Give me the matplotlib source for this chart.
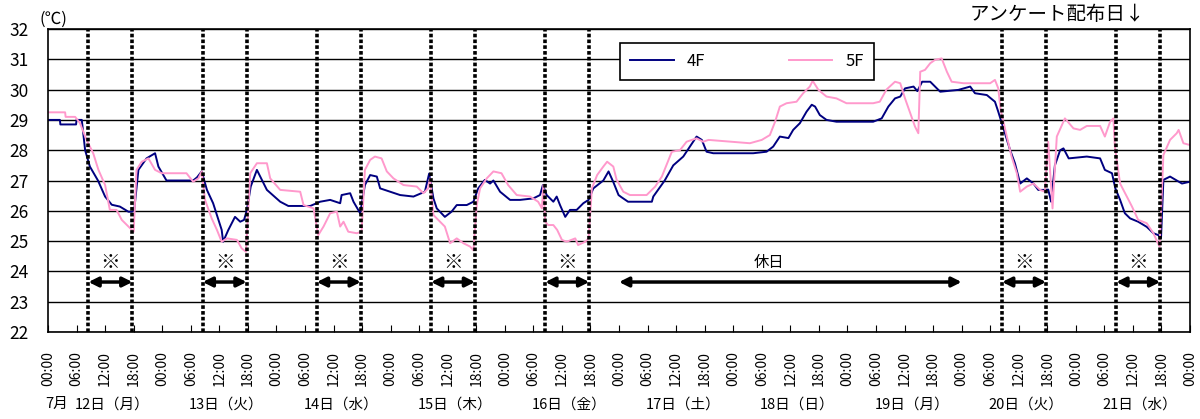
import numpy as np
import matplotlib.pyplot as plt

plt.rcParams['font.family'] = ['Noto Sans CJK JP', 'DejaVu Sans']

# hours from 7/12 00:00
t4 = [0, 2.5, 2.6, 5.9, 6.0, 7.1, 7.8, 8.8, 10.5, 12.0, 13.4, 15.1, 16.9, 17.6, 18.1, 19.0,
      20.7, 22.5, 23.2, 24.9, 30.5, 31.3, 32.3, 33.4, 34.7, 36.5, 36.8, 37.9, 39.3, 40.4,
      41.2, 41.8, 42.6, 43.9, 46.0, 48.8, 50.5, 55.1, 57.2, 59.3, 61.4, 61.7, 63.5, 64.2,
      65.6, 66.6, 67.7, 69.1, 69.8, 71.9, 74.0, 76.8, 79.2, 80.1, 81.0, 81.7, 83.4, 84.8,
      85.9, 88.0, 89.4, 90.4, 91.8, 92.9, 93.6, 95.0, 97.1, 99.2, 102.0, 103.4, 104.0,
      104.8, 106.2, 106.9, 107.6, 108.7, 109.7, 111.1, 112.5, 113.6, 114.6, 116.7, 117.8,
      118.8, 119.9, 120.5, 121.9, 126.9, 127.2, 129.6, 131.4, 133.5, 134.9, 136.3, 137.4,
      138.4, 139.8, 148.2, 151.0, 152.4, 153.8, 155.6, 156.6, 158.0, 159.4, 160.5, 161.2,
      162.2, 163.6, 165.7, 173.4, 175.2, 176.6, 178.0, 179.1, 180.1, 181.9, 182.7, 183.7,
      185.4, 187.5, 191.3, 193.8, 194.8, 197.3, 199.0, 199.7, 201.1, 202.2, 203.2, 204.3,
      205.7, 207.1, 208.1, 209.2, 210.2, 210.8, 211.6, 212.7, 213.4, 214.5, 218.3, 221.1,
      222.1, 223.6, 224.3, 225.3, 226.3, 227.4, 229.1, 230.9, 232.3, 233.3, 233.9, 234.4,
      235.8, 238.3, 240.0]
v4 = [29.0, 29.0, 28.85, 28.85, 29.0, 29.0, 28.0, 27.46, 27.0, 26.47, 26.2, 26.14, 25.97,
      25.97, 26.0, 27.35, 27.73, 27.9, 27.46, 27.0, 27.0, 27.1, 27.3, 26.69, 26.25, 25.37,
      24.98, 25.37, 25.8, 25.64, 25.7, 26.03, 26.8, 27.35, 26.69, 26.3, 26.16, 26.16, 26.3,
      26.36, 26.25, 26.52, 26.58, 26.3, 25.92, 26.85, 27.18, 27.13, 26.74, 26.63, 26.52,
      26.47, 26.63, 27.23, 26.41, 26.08, 25.8, 25.97, 26.19, 26.19, 26.3, 26.74, 27.02,
      26.9, 27.0, 26.63, 26.36, 26.36, 26.41, 26.52, 26.85, 26.52, 26.3, 26.47, 26.19,
      25.8, 26.03, 26.03, 26.25, 26.36, 26.74, 27.0, 27.3, 26.95, 26.52, 26.45, 26.3, 26.3,
      26.47, 27.0, 27.5, 27.79, 28.12, 28.45, 28.34, 27.95, 27.9, 27.9, 27.95, 28.12,
      28.45, 28.4, 28.67, 28.89, 29.27, 29.5, 29.44, 29.16, 29.0, 28.94, 28.94, 29.05,
      29.44, 29.71, 29.77, 30.04, 30.1, 29.95, 30.26, 30.26, 29.93, 29.99, 30.1, 29.88,
      29.82, 29.6, 29.27, 28.56, 28.0, 27.57, 26.9, 27.07, 26.9, 26.69, 26.69, 26.7, 26.3,
      27.5, 28.0, 28.06, 27.73, 27.79, 27.73, 27.35, 27.24, 26.74, 26.36, 25.92, 25.75,
      25.64, 25.47, 25.26, 25.2, 25.1, 27.02, 27.13, 26.9, 26.96]

t5 = [0, 3.6, 3.7, 5.7, 6.7, 8.1, 9.5, 10.6, 12.0, 13.0, 14.4, 15.5, 16.9, 18.0, 18.6, 19.7,
      21.1, 22.5, 23.9, 29.1, 30.5, 31.6, 32.3, 33.0, 34.4, 35.5, 36.5, 37.6, 39.7, 40.7,
      41.6, 42.5, 43.9, 46.0, 46.7, 48.8, 53.0, 53.7, 55.8, 56.8, 57.9, 59.3, 60.7, 61.4,
      62.1, 63.1, 64.9, 65.9, 66.6, 67.7, 68.7, 70.1, 71.2, 72.6, 74.7, 77.5, 78.9, 79.9,
      80.3, 81.0, 82.0, 83.4, 84.5, 85.9, 87.3, 88.7, 89.4, 90.1, 90.8, 92.2, 93.6, 95.3,
      96.7, 98.5, 101.3, 103.0, 103.8, 104.1, 104.5, 105.1, 106.2, 107.0, 108.0, 109.0,
      110.8, 111.4, 112.9, 113.6, 114.3, 115.4, 116.7, 117.5, 118.8, 119.5, 120.9, 122.3,
      125.8, 127.6, 129.0, 131.1, 132.8, 134.2, 135.3, 136.3, 137.7, 138.8, 147.5, 150.0,
      151.7, 152.8, 153.8, 155.2, 157.3, 158.7, 160.1, 160.7, 161.9, 163.6, 165.7, 167.8,
      173.4, 174.8, 176.2, 178.0, 179.1, 180.1, 181.2, 182.2, 182.9, 183.3, 184.3, 185.4,
      186.4, 187.8, 188.9, 189.9, 192.4, 198.0, 199.0, 199.7, 200.2, 201.5, 202.5, 203.6,
      204.3, 205.7, 207.1, 208.5, 209.5, 210.2, 211.1, 212.0, 213.7, 215.5, 216.9, 218.3,
      221.1, 222.1, 223.2, 223.9, 224.2, 225.3, 226.7, 227.8, 229.1, 230.9, 232.3, 233.1,
      233.6, 234.4, 235.8, 237.2, 237.6, 238.6, 240.0]
v5 = [29.25, 29.25, 29.1, 29.1, 28.9, 28.34, 27.9, 27.35, 26.85, 26.03, 26.03, 25.7, 25.48,
      25.31, 27.35, 27.62, 27.73, 27.35, 27.24, 27.24, 26.96, 27.07, 27.3, 26.36, 25.75,
      25.37, 24.98, 25.09, 25.04, 24.76, 24.65, 27.24, 27.57, 27.57, 27.07, 26.69, 26.63,
      26.19, 26.08, 25.2, 25.48, 25.92, 25.97, 25.48, 25.64, 25.31, 25.26, 25.31, 27.35,
      27.68, 27.79, 27.73, 27.3, 27.07, 26.85, 26.8, 26.58, 26.74, 27.07, 25.86, 25.7,
      25.48, 24.93, 25.09, 24.93, 24.82, 24.7, 26.19, 26.74, 27.07, 27.3, 27.24, 26.85,
      26.52, 26.47, 26.3, 26.08, 26.85, 25.64, 25.53, 25.53, 25.37, 25.04, 24.98, 25.09,
      24.87, 24.98, 25.09, 26.74, 27.18, 27.46, 27.62, 27.46, 27.02, 26.63, 26.52, 26.52,
      26.8, 27.13, 27.95, 28.0, 28.28, 28.34, 28.39, 28.28, 28.34, 28.23, 28.34, 28.5,
      28.94, 29.44, 29.55, 29.6, 29.88, 30.1, 30.29, 29.99, 29.77, 29.71, 29.55, 29.55,
      29.6, 30.0, 30.26, 30.21, 29.71, 29.22, 28.78, 28.56, 30.59, 30.65, 30.87, 30.98,
      31.03, 30.59, 30.26, 30.21, 30.21, 30.32, 30.04, 29.33, 28.45, 27.79, 27.24, 26.63,
      26.8, 26.9, 26.69, 26.63, 28.28, 26.08, 28.45, 29.05, 28.72, 28.67, 28.8, 28.8,
      28.45, 28.94, 29.05, 28.12, 26.9, 26.47, 26.14, 25.7, 25.59, 25.26, 24.98, 24.82,
      27.84, 28.34, 28.56, 28.67, 28.23, 28.17]

tick_names = ['00:00', '06:00', '12:00', '18:00'] * 10 + ['00:00']
day_names = ['12日（月）', '13日（火）', '14日（水）', '15日（木）', '16日（金）',
             '17日（土）', '18日（日）', '19日（月）', '20日（火）', '21日（水）']
work_days = [0, 1, 2, 3, 4, 8, 9]
start_h, end_h = 8.5, 17.75

fig = plt.figure(figsize=(12, 4.19), dpi=100)
ax = fig.add_axes([0.04, 0.2076, 0.9517, 0.7232])

ax.plot(t4, v4, color='#000080', lw=1.4, label='4F', zorder=2)
ax.plot(t5, v5, color='#FF99CC', lw=1.4, label='5F', zorder=2)

ax.set_xlim(0, 240)
ax.set_ylim(22, 32)
ax.set_yticks(range(22, 33))
ax.grid(axis='y', color='black', lw=1)
ax.set_axisbelow(True)
ax.set_xticks(np.arange(0, 241, 6))
ax.set_xticklabels(tick_names)
ax.tick_params(axis='x', direction='in', length=5, pad=14, labelrotation=90, labelsize=10)
ax.tick_params(axis='y', length=0, pad=14, labelsize=12.5)
for s in ax.spines.values():
    s.set_color('black')
    s.set_linewidth(1.2)

# working hours
for d in work_days:
    a, b = d * 24 + start_h, d * 24 + end_h
    for h in (a, b):
        ax.axvline(h, color='black', ls=(0, (1, 0.6)), lw=2.6, zorder=3)
    ax.annotate('', xy=(b, 23.65), xytext=(a, 23.65),
                arrowprops=dict(arrowstyle='<|-|>', color='black', lw=2.5,
                                mutation_scale=14, shrinkA=0, shrinkB=0))
    ax.text((a + b) / 2, 24.3, '※', ha='center', va='center', fontsize=14)

# holiday
ax.annotate('', xy=(192, 23.65), xytext=(120, 23.65),
            arrowprops=dict(arrowstyle='<|-|>', color='black', lw=2.5,
                            mutation_scale=14, shrinkA=0, shrinkB=0))
ax.text(151.5, 24.3, '休日', ha='center', va='center', fontsize=11)

tr = ax.get_xaxis_transform()
for i, name in enumerate(day_names):
    ax.text(i * 24 + 13.5, -0.238, name, transform=tr, ha='center', va='center', fontsize=10.5)
ax.text(1.9, -0.238, '7月', transform=tr, ha='center', va='center', fontsize=10.5)

fig.text(53 / 1200, 1 - 19 / 419, '(℃)', ha='center', va='center', fontsize=12)
fig.text(1145 / 1200, 1 - 15 / 419, 'アンケート配布日↓', ha='right', va='center', fontsize=14)

leg = ax.legend(loc='center', bbox_to_anchor=(0.612, 0.894), ncol=2, fontsize=12,
                handlelength=2.6, columnspacing=5, borderpad=0.6, fancybox=False,
                framealpha=1, edgecolor='black')
leg.get_frame().set_linewidth(1.2)

fig.savefig('out.png', dpi=100)
